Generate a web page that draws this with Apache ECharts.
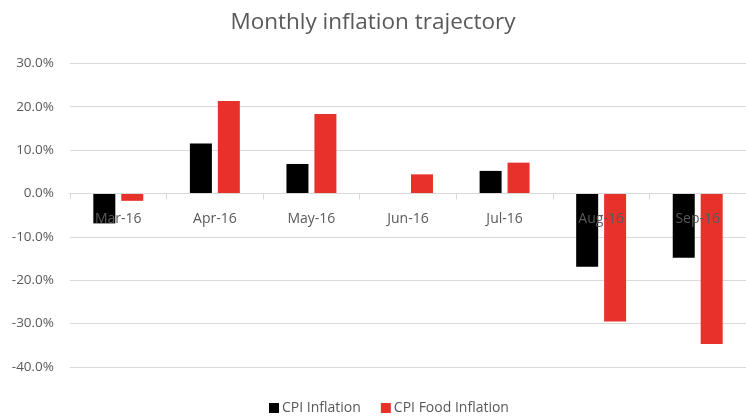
<!DOCTYPE html>
<html>
<head>
<meta charset="utf-8">
<script src="https://cdn.jsdelivr.net/npm/echarts@6/dist/echarts.min.js"></script>
<style>
  html, body { margin: 0; padding: 0; background: #fff; }
  #chart { width: 746px; height: 416px; }
</style>
</head>
<body>
<div id="chart"></div>
<script>
// Monthly inflation, % change
const months = ["Mar-16", "Apr-16", "May-16", "Jun-16", "Jul-16", "Aug-16", "Sep-16"];
const cpiInflation = [-6.9, 11.5, 6.8, 0, 5.2, -16.9, -14.8];
const cpiFoodInflation = [-1.7, 21.3, 18.3, 4.4, 7.1, -29.5, -34.7];

const yMin = -40;
const yMax = 30;

const font = "'Open Sans', 'Noto Sans', sans-serif";
const textGray = "#595959";
const lineGray = "#d9d9d9";

const gridTop = 63.3;
const gridBottom = 49;
const chartH = 416;
// shift the category axis up so it sits on the zero line
const zeroOffset = -((0 - yMin) / (yMax - yMin)) * (chartH - gridTop - gridBottom);

const chart = echarts.init(document.getElementById("chart"));
chart.setOption({
  animation: false,
  title: {
    text: "Monthly inflation trajectory",
    left: "center",
    top: 6,
    textStyle: { color: textGray, fontFamily: font, fontSize: 22.5, fontWeight: "normal" },
  },
  legend: {
    bottom: -4,
    left: 264,
    itemWidth: 10,
    itemHeight: 10,
    itemGap: 20,
    icon: "rect",
    textStyle: { color: textGray, fontFamily: font, fontSize: 14, padding: [0, 0, 0, -2] },
    data: ["CPI Inflation", "CPI Food Inflation"],
  },
  grid: { left: 70, right: -6.5, top: gridTop, bottom: gridBottom },
  xAxis: {
    type: "category",
    data: months,
    z: 10,
    offset: zeroOffset,
    axisLine: { onZero: false, lineStyle: { color: lineGray } },
    axisTick: { show: true, length: 6, lineStyle: { color: lineGray } },
    axisLabel: { color: textGray, fontFamily: font, fontSize: 14, margin: 19 },
  },
  yAxis: {
    type: "value",
    min: yMin,
    max: yMax,
    interval: 10,
    axisLine: { show: false },
    axisTick: { show: false },
    axisLabel: {
      color: textGray,
      fontFamily: font,
      fontSize: 13.5,
      margin: 16,
      formatter: (v) => v.toFixed(1) + "%",
    },
    splitLine: { lineStyle: { color: lineGray } },
  },
  series: [
    {
      name: "CPI Inflation",
      type: "bar",
      data: cpiInflation,
      barWidth: 22,
      barGap: "27%",
      itemStyle: { color: "#000000" },
    },
    {
      name: "CPI Food Inflation",
      type: "bar",
      data: cpiFoodInflation,
      barWidth: 22,
      itemStyle: { color: "#e8312a" },
    },
  ],
});
</script>
</body>
</html>
